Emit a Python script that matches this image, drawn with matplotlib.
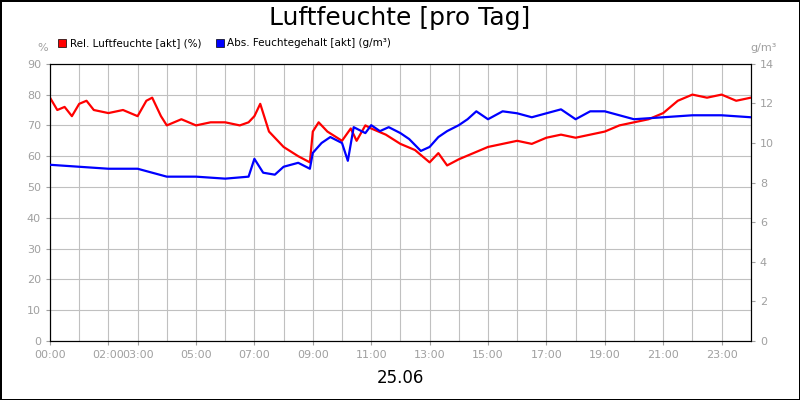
import matplotlib.pyplot as plt
import numpy as np

# Relative humidity (%)
rh_t = [0.0, 0.25, 0.5, 0.75, 1.0, 1.25, 1.5, 2.0, 2.5, 3.0, 3.3, 3.5, 3.8, 4.0, 4.5, 5.0, 5.5, 6.0, 6.5, 6.8,
        7.0, 7.2, 7.5, 8.0, 8.5, 8.9, 9.0, 9.2, 9.5, 10.0, 10.3, 10.5, 10.8, 11.0, 11.5, 12.0, 12.5, 13.0, 13.3,
        13.6, 14.0, 14.5, 15.0, 15.5, 16.0, 16.5, 17.0, 17.5, 18.0, 18.5, 19.0, 19.5, 20.0, 20.5, 21.0, 21.5,
        22.0, 22.5, 23.0, 23.5, 24.0]
rh = [79, 75, 76, 73, 77, 78, 75, 74, 75, 73, 78, 79, 73, 70, 72, 70, 71, 71, 70, 71,
      73, 77, 68, 63, 60, 58, 68, 71, 68, 65, 69, 65, 70, 69, 67, 64, 62, 58, 61,
      57, 59, 61, 63, 64, 65, 64, 66, 67, 66, 67, 68, 70, 71, 72, 74, 78,
      80, 79, 80, 78, 79]

# Absolute humidity (g/m3)
ah_t = [0.0, 1.0, 2.0, 3.0, 3.5, 4.0, 5.0, 6.0, 6.8, 7.0, 7.3, 7.7, 8.0, 8.5, 8.9, 9.0, 9.3, 9.6, 10.0, 10.2,
        10.4, 10.8, 11.0, 11.3, 11.6, 12.0, 12.3, 12.7, 13.0, 13.3, 13.6, 14.0, 14.3, 14.6, 15.0, 15.5, 16.0,
        16.5, 17.0, 17.5, 18.0, 18.5, 19.0, 19.5, 20.0, 21.0, 22.0, 23.0, 24.0]
ah = [8.9, 8.8, 8.7, 8.7, 8.5, 8.3, 8.3, 8.2, 8.3, 9.2, 8.5, 8.4, 8.8, 9.0, 8.7, 9.5, 10.0, 10.3, 10.0, 9.1,
      10.8, 10.5, 10.9, 10.6, 10.8, 10.5, 10.2, 9.6, 9.8, 10.3, 10.6, 10.9, 11.2, 11.6, 11.2, 11.6, 11.5,
      11.3, 11.5, 11.7, 11.2, 11.6, 11.6, 11.4, 11.2, 11.3, 11.4, 11.4, 11.3]

tick_hours = [0, 2, 3, 5, 7, 9, 11, 13, 15, 17, 19, 21, 23]
tick_labels = ['%02d:00' % h for h in tick_hours]

fig = plt.figure(figsize=(8, 4), dpi=100)
fig.patch.set_edgecolor('black')
fig.patch.set_linewidth(2)
ax = fig.add_axes([0.0625, 0.1475, 0.876, 0.693])
ax2 = ax.twinx()

ax.plot(rh_t, rh, color='#ff0000', lw=1.6, zorder=3)
ax2.plot(ah_t, ah, color='#0000ff', lw=1.6, zorder=3)

ax.set_xlim(0, 24)
ax.set_ylim(0, 90)
ax2.set_ylim(0, 14)
ax.set_yticks(np.arange(0, 91, 10))
ax2.set_yticks(np.arange(0, 15, 2))
ax.set_xticks(range(25), minor=True)
ax.set_xticks(tick_hours)
ax.set_xticklabels(tick_labels)
ax.grid(True, which='both', axis='x', color='#c0c0c0', lw=0.8)
ax.grid(True, axis='y', color='#c0c0c0', lw=0.8)
ax.set_axisbelow(True)
for a in (ax, ax2):
    a.tick_params(colors='#a0a0a0', labelsize=8, length=3, which='both')
    for s in a.spines.values():
        s.set_color('black')
ax.tick_params(axis='x', which='minor', length=0)

fig.text(0.5, 0.955, 'Luftfeuchte [pro Tag]', ha='center', va='center', fontsize=18)
fig.text(0.5, 0.055, '25.06', ha='center', va='center', fontsize=12)
fig.text(0.053, 0.88, '%', ha='center', va='center', fontsize=8, color='#a0a0a0')
fig.text(0.955, 0.88, 'g/m³', ha='center', va='center', fontsize=8, color='#a0a0a0')

fig.patches.append(plt.Rectangle((0.073, 0.882), 0.01, 0.02, transform=fig.transFigure, color='#ff0000', ec='black', lw=0.5))
fig.text(0.087, 0.892, 'Rel. Luftfeuchte [akt] (%)', va='center', fontsize=7.5)
fig.patches.append(plt.Rectangle((0.27, 0.882), 0.01, 0.02, transform=fig.transFigure, color='#0000ff', ec='black', lw=0.5))
fig.text(0.284, 0.892, 'Abs. Feuchtegehalt [akt] (g/m³)', va='center', fontsize=7.5)

fig.savefig('out.png', dpi=100, edgecolor=fig.get_edgecolor())
